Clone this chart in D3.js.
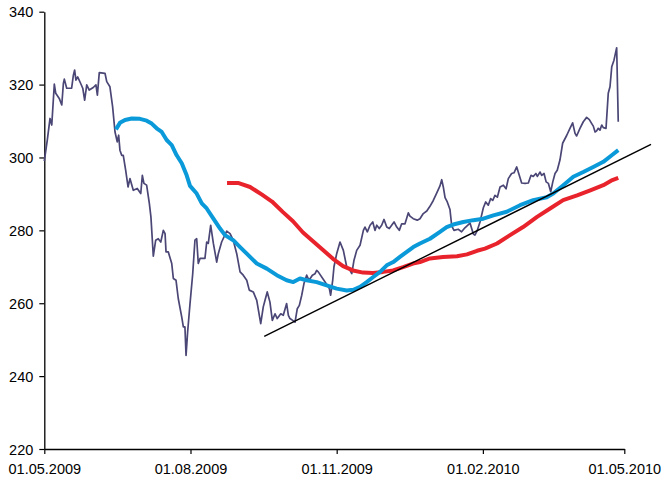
<!DOCTYPE html>
<html>
<head>
<meta charset="utf-8">
<script src="https://cdn.jsdelivr.net/npm/d3@7"></script>
<style>
  body { margin: 0; background: #fff; }
  svg { display: block; font-family: "Liberation Sans", Arial, sans-serif; }
</style>
</head>
<body>
<div id="chart"></div>
<script>
// x ticks and y range
const xTickLabels = ['01.05.2009', '01.08.2009', '01.11.2009', '01.02.2010', '01.05.2010'];
const yTicks = [220, 240, 260, 280, 300, 320, 340];

// price, days since 01.05.2009
const priceDays = [0, 1.9, 3.6, 4.7, 6.3, 7.2, 9.4, 11.0, 12.0, 12.6, 14.1, 17.2, 18.3, 19.1, 19.9, 21.0, 22.9, 24.2,
  25.4, 26.7, 28.3, 30.8, 32.5, 33.4, 34.6, 38.2, 39.3, 41.3, 43.0, 44.5, 45.9, 46.8, 47.6, 48.7, 49.7, 51.2, 52.7,
  53.9, 56.0, 58.5, 60.7, 61.7, 62.7, 64.4, 66.1, 67.1, 68.6, 70.1, 71.7, 73.3, 74.9, 76.0, 76.6, 78.0, 80.2, 81.2,
  82.9, 84.3, 86.5, 87.5, 88.5, 89.2, 90.2, 91.7, 93.4, 94.8, 95.9, 96.9, 98.0, 101.1, 102.2, 103.2, 104.7, 106.4,
  108.5, 109.5, 111.6, 114.8, 116.9, 118.9, 121.1, 123.2, 125.2, 127.4, 129.0, 131.5, 133.7, 136.2, 137.8, 138.9,
  140.3, 142.0, 143.5, 145.2, 146.6, 148.8, 150.4, 152.5, 153.6, 154.6, 156.3, 157.8, 159.2, 160.5, 162.0, 163.4,
  165.1, 166.6, 168.7, 170.4, 171.4, 172.4, 176.7, 179.4, 180.2, 181.5, 182.3, 184.0, 186.1, 188.2, 190.3, 192.4,
  193.5, 194.9, 196.6, 198.7, 200.8, 201.8, 203.3, 205.0, 206.7, 208.1, 209.2, 210.8, 212.3, 213.8, 215.5, 217.1,
  218.6, 220.1, 221.8, 223.4, 224.9, 227.0, 229.1, 230.1, 232.2, 234.7, 236.4, 238.5, 240.7, 242.7, 244.8, 247.0,
  249.0, 250.1, 251.1, 252.2, 253.6, 255.3, 256.4, 257.8, 260.5, 262.6, 264.7, 267.9, 270.0, 271.0, 272.5, 274.2,
  276.3, 277.8, 279.4, 280.9, 282.2, 283.6, 285.1, 286.8, 288.9, 290.6, 292.0, 294.1, 295.6, 297.3, 298.9, 300.4,
  302.5, 304.6, 306.3, 307.7, 309.4, 310.3, 312.0, 313.0, 314.5, 315.8, 317.2, 318.7, 320.0, 321.4, 322.8, 324.5,
  326.2, 328.8, 330.8, 332.5, 334.0, 335.0, 337.1, 339.2, 341.3, 343.0, 344.5, 345.5, 346.6, 347.6, 348.6, 349.7,
  350.8, 351.8, 353.5, 354.9, 356.0, 357.1, 358.5, 360.2, 361.2];
const priceValues = [299, 304.8, 310.7, 308.9, 320.1, 317.6, 316.2, 314.4, 320.3, 321.5, 319.0, 319.0, 322.6, 324.0,
  321.2, 322.1, 320.3, 319.0, 315.7, 319.9, 318.5, 319.2, 319.9, 317.1, 323.3, 323.1, 320.8, 319.4, 313.9, 307.0,
  304.3, 306.1, 302.0, 300.6, 300.6, 296.5, 291.9, 294.2, 291.0, 291.5, 290.1, 295.1, 292.9, 292.4, 287.4, 283.7,
  272.9, 277.3, 277.7, 276.8, 280.0, 279.1, 274.1, 274.1, 270.9, 266.8, 266.3, 261.3, 256.2, 253.5, 253.5, 245.7,
  252.1, 259.9, 268.1, 277.3, 277.7, 270.9, 272.3, 272.3, 276.8, 276.4, 281.4, 276.4, 271.3, 273.6, 276.8, 279.8,
  279.1, 277.3, 273.6, 268.6, 267.7, 266.3, 263.6, 263.1, 260.8, 254.4, 259.0, 260.8, 263.1, 260.3, 255.3, 257.1,
  255.8, 257.1, 256.7, 259.9, 256.7, 255.8, 255.3, 254.8, 258.5, 259.4, 262.2, 265.4, 267.7, 266.3, 267.7, 268.1,
  269.0, 268.6, 265.8, 264.0, 262.2, 266.3, 270.0, 273.6, 276.8, 274.5, 270.0, 269.0, 268.1, 271.8, 274.5, 275.9,
  280.0, 280.9, 279.6, 281.4, 282.3, 280.0, 281.4, 280.5, 281.4, 283.0, 280.9, 280.5, 281.4, 282.3, 280.9, 280.0,
  281.8, 281.8, 284.8, 283.9, 283.2, 282.8, 283.2, 284.6, 285.3, 286.6, 288.2, 290.3, 292.2, 293.9, 291.9, 289.0,
  287.8, 285.7, 281.2, 280.0, 280.3, 279.6, 280.7, 282.0, 279.0, 278.7, 280.0, 282.3, 286.2, 287.8, 286.9, 288.7,
  288.2, 289.6, 289.1, 291.9, 292.4, 291.4, 294.2, 295.6, 295.8, 297.4, 295.1, 293.0, 292.9, 293.0, 295.1, 294.8,
  295.6, 294.8, 296.0, 295.1, 295.6, 293.3, 292.9, 290.6, 293.3, 295.6, 296.5, 299.3, 303.9, 306.1, 308.0, 309.5,
  306.6, 305.9, 308.0, 309.8, 311.0, 310.4, 309.3, 308.6, 307.0, 307.3, 308.0, 307.5, 308.9, 308.2, 308.0, 317.6,
  319.4, 324.9, 326.7, 330.1, 309.8];

// short moving average (blue)
const blueDays = [45.1, 47.6, 50.8, 55.0, 60.2, 64.4, 67.6, 70.7, 73.9, 77.0, 80.2, 83.3, 86.5, 89.6, 91.7, 95.9,
  99.1, 102.2, 106.4, 110.6, 113.7, 118.9, 123.2, 127.4, 133.7, 140.0, 146.3, 152.5, 156.7, 160.9, 165.1, 171.4,
  177.7, 184.0, 190.3, 194.5, 198.7, 202.9, 207.0, 211.3, 215.5, 219.6, 223.8, 228.1, 232.2, 236.4, 242.7, 249.0,
  253.2, 257.4, 263.7, 270.0, 276.3, 282.6, 291.0, 299.4, 307.7, 316.2, 320.3, 326.6, 332.9, 339.2, 345.5, 351.8,
  357.1, 361.2];
const blueValues = [307.7, 309.5, 310.3, 310.7, 310.6, 310.1, 309.3, 308.0, 307.0, 304.8, 303.4, 300.6, 298.4,
  295.1, 292.2, 290.1, 287.4, 286.0, 283.2, 280.5, 278.7, 277.3, 275.4, 273.6, 270.9, 269.5, 267.7, 266.3, 265.8,
  266.8, 266.3, 265.8, 264.9, 264.0, 263.5, 263.7, 264.5, 265.8, 267.2, 268.6, 270.4, 271.3, 272.7, 274.1, 275.4,
  276.4, 277.7, 279.6, 280.9, 281.6, 282.3, 282.8, 283.2, 284.1, 285.1, 286.9, 288.3, 289.1, 290.1, 292.4, 294.7,
  296.0, 297.4, 298.8, 300.6, 302.0];

// long moving average (red)
const redDays = [115.0, 121.9, 129.5, 137.0, 143.3, 150.2, 156.5, 162.8, 169.1, 175.4, 181.7, 188.0, 194.3, 200.6,
  206.9, 213.2, 219.5, 225.8, 232.0, 236.4, 242.7, 250.9, 259.7, 266.0, 272.3, 277.3, 284.9, 293.1, 301.3, 310.1,
  318.3, 326.5, 335.3, 343.6, 351.8, 357.5, 361.2];
const redValues = [293.0, 293.0, 291.9, 289.8, 287.9, 285.0, 282.5, 279.4, 277.0, 274.6, 272.2, 270.2, 269.0, 268.4,
  268.3, 268.6, 269.0, 269.9, 270.9, 271.3, 272.3, 272.7, 272.9, 273.4, 274.4, 275.0, 276.4, 278.7, 280.9, 283.7,
  286.0, 288.3, 289.6, 291.0, 292.4, 293.8, 294.4];

// support trend line
const trendDays = [138.4, 381.8];
const trendValues = [250.9, 303.6];

const W = 663, H = 479;
const parse = d3.utcParse('%d.%m.%Y');
const fmt = d3.utcFormat('%d.%m.%Y');
const start = parse(xTickLabels[0]);
const toDate = d => new Date(+start + d * 864e5);

const x = d3.scaleUtc()
  .domain([start, parse(xTickLabels[xTickLabels.length - 1])])
  .range([44.3, 624.3]);
const y = d3.scaleLinear().domain([220, 340]).range([449, 11.7]);

const svg = d3.select('#chart').append('svg')
  .attr('width', W).attr('height', H);

// axes
const xAxis = svg.append('g')
  .attr('transform', `translate(0,${y(220)})`)
  .call(d3.axisBottom(x).tickValues(xTickLabels.map(parse)).tickFormat(fmt).tickSize(5).tickSizeOuter(0));
const yAxis = svg.append('g')
  .attr('transform', `translate(${x(start)},0)`)
  .call(d3.axisLeft(y).tickValues(yTicks).tickSize(5).tickSizeOuter(0));

[xAxis, yAxis].forEach(g => {
  g.select('.domain').attr('stroke', '#000').attr('stroke-width', 1.3);
  g.selectAll('.tick line').attr('stroke', '#000').attr('stroke-width', 1.2);
  g.selectAll('text').attr('fill', '#000').style('font-size', '14.5px')
    .style('font-family', '"Liberation Sans", Arial, sans-serif');
});
xAxis.selectAll('text').attr('dy', '1.05em').attr('y', 10);
yAxis.selectAll('text').attr('x', -11).attr('dy', '0.35em');

const line = d3.line()
  .x(d => x(toDate(d[0])))
  .y(d => y(d[1]));

function drawSeries(days, values, color, width) {
  svg.append('path')
    .datum(d3.zip(days, values))
    .attr('d', line)
    .attr('fill', 'none')
    .attr('stroke', color)
    .attr('stroke-width', width)
    .attr('stroke-linejoin', 'round');
}

drawSeries(priceDays, priceValues, '#4a4675', 1.7);
drawSeries(redDays, redValues, '#e8232b', 4);
drawSeries(blueDays, blueValues, '#0a9ad9', 4);
drawSeries(trendDays, trendValues, '#000', 1.4);
</script>
</body>
</html>
